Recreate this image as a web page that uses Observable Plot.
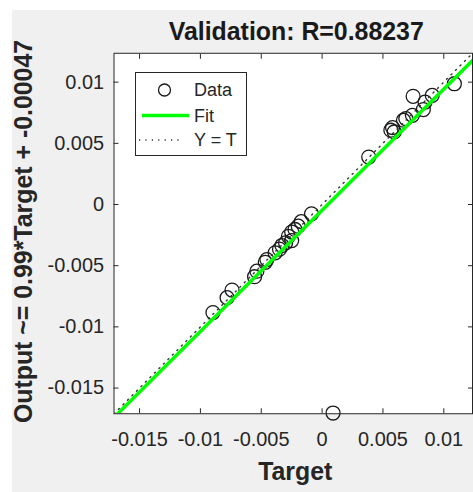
<!DOCTYPE html>
<html><head><meta charset="utf-8">
<script src="https://cdn.jsdelivr.net/npm/d3@7"></script>
<script src="https://cdn.jsdelivr.net/npm/@observablehq/plot@0.6"></script>
<style>
html,body{margin:0;padding:0;background:#fff;overflow:hidden;width:473px;height:492px}
#bg{position:absolute;left:12px;top:10px;right:0;bottom:0;background:#f0f0f0}
#chart{position:absolute;left:0;top:0}
#legend{position:absolute;left:135px;top:72px;width:112px;height:84px;box-sizing:border-box;background:#fff;border:1px solid #262626}
#legend svg{position:absolute;left:0;top:0}
</style></head>
<body><div id="bg"></div><div id="chart"></div><div id="legend"></div>
<script>
// Data (Target, Output)
const targets = [0.01087, 0.00748, 0.00905, 0.00846, 0.00832, 0.00742, 0.00688, 0.00669, 0.00579, 0.00565, 0.00593, 0.00383,
  -0.00087, -0.00171, -0.00196, -0.00223, -0.00250, -0.00277, -0.00250, -0.00300, -0.00330, -0.00350, -0.00386,
  -0.00454, -0.00467, -0.00536, -0.00555, -0.00740, -0.00781, -0.00897, 0.00090];
const outputs = [0.00987, 0.00884, 0.00892, 0.00837, 0.00776, 0.00729, 0.00702, 0.00689, 0.00629, 0.00607, 0.00593, 0.00388,
  -0.00076, -0.00140, -0.00177, -0.00204, -0.00225, -0.00260, -0.00295, -0.00314, -0.00335, -0.00365, -0.00395,
  -0.00450, -0.00472, -0.00545, -0.00590, -0.00699, -0.00761, -0.00883, -0.01704];
const fitSlope = 0.99;
const fitIntercept = -0.00047;
const axisLimits = [-0.0171, 0.01236];
const tickValues = [-0.015, -0.01, -0.005, 0, 0.005, 0.01];
const tickLabels = ["-0.015", "-0.01", "-0.005", "0", "0.005", "0.01"];
const titleText = "Validation: R=0.88237";
const xLabel = "Target";
const yLabel = "Output ~= 0.99*Target + -0.00047";
const legendLabels = ["Data", "Fit", "Y = T"];

const font = '"Liberation Sans", Arial, Helvetica, sans-serif';
const axisColor = "#262626";
const points = targets.map((t, i) => ({t, o: outputs[i]}));
const fitLine = axisLimits.map(x => ({x, y: fitSlope * x + fitIntercept}));
const idLine = axisLimits.map(x => ({x, y: x}));
const fmt = d => tickLabels[tickValues.indexOf(d)];
const blank = () => "";

const chart = Plot.plot({
  width: 475, height: 492,
  marginLeft: 114, marginTop: 53, marginBottom: 77, marginRight: 1,
  style: {background: "transparent", fontFamily: font, overflow: "visible"},
  x: {domain: axisLimits, axis: null, label: null},
  y: {domain: axisLimits, axis: null, label: null},
  marks: [
    Plot.frame({fill: "white", stroke: null}),
    Plot.dot(points, {x: "t", y: "o", r: 7, stroke: "#1a1a1a", strokeWidth: 1.3, fill: "none"}),
    Plot.line(fitLine, {x: "x", y: "y", stroke: "#00ff00", strokeWidth: 3.5, clip: true}),
    Plot.line(idLine, {x: "x", y: "y", stroke: "#333333", strokeWidth: 1.4, strokeDasharray: "1.2,5.2", clip: true}),
    Plot.frame({stroke: axisColor, strokeWidth: 1, fill: null}),
    Plot.axisX({anchor: "bottom", ticks: tickValues, tickSize: -5, tickPadding: 23, tickFormat: fmt, fontSize: 20, color: axisColor, label: null}),
    Plot.axisX({anchor: "top", ticks: tickValues, tickSize: -5, tickFormat: blank, color: axisColor, label: null}),
    Plot.axisY({anchor: "left", ticks: tickValues, tickSize: -5, tickPadding: 15, tickFormat: fmt, fontSize: 20, color: axisColor, label: null}),
    Plot.axisY({anchor: "right", ticks: tickValues, tickSize: -5, tickFormat: blank, color: axisColor, label: null}),
    Plot.text([titleText], {text: d => d, frameAnchor: "top", textAnchor: "middle", lineAnchor: "bottom", dy: -13, dx: 3, fontSize: 25, fontWeight: "bold", fill: "#1a1a1a"}),
    Plot.text([xLabel], {text: d => d, frameAnchor: "bottom", textAnchor: "middle", lineAnchor: "bottom", dy: 67, dx: 2, fontSize: 25, fontWeight: "bold", fill: "#262626"}),
    Plot.text([yLabel], {text: d => d, frameAnchor: "left", textAnchor: "middle", lineAnchor: "bottom", rotate: -90, dx: -82, dy: -2, fontSize: 25, fontWeight: "bold", fill: "#262626"})
  ]
});
document.getElementById("chart").appendChild(chart);

// Legend
const lg = d3.select("#legend").append("svg").attr("width", 110).attr("height", 82)
  .style("font-family", font).style("font-size", "18px");
const rowY = [17, 42.5, 67];
lg.append("circle").attr("cx", 28.5).attr("cy", rowY[0]).attr("r", 6).attr("fill", "none").attr("stroke", "#1a1a1a").attr("stroke-width", 1.3);
lg.append("line").attr("x1", 6).attr("x2", 53).attr("y1", rowY[1]).attr("y2", rowY[1]).attr("stroke", "#00ff00").attr("stroke-width", 3.5);
lg.append("line").attr("x1", 3).attr("x2", 45).attr("y1", rowY[2]).attr("y2", rowY[2]).attr("stroke", "#333333").attr("stroke-width", 1.4).attr("stroke-dasharray", "1.2,5.2");
lg.selectAll("text").data(legendLabels).join("text")
  .attr("x", 58).attr("y", (d, i) => rowY[i]).attr("dy", "0.35em").attr("fill", "#262626").text(d => d);
</script>
</body></html>
